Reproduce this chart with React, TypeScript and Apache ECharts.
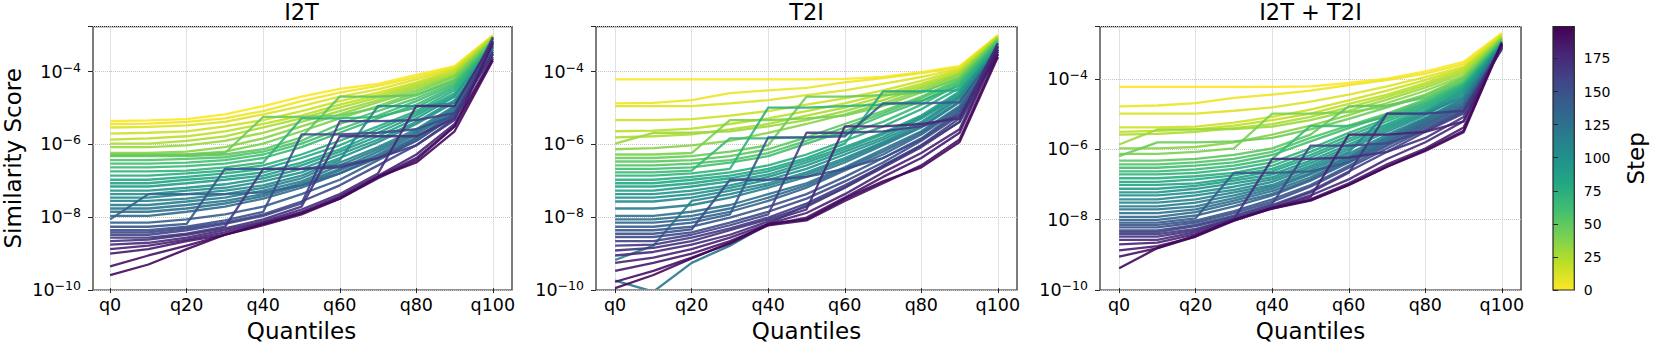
import React, { useEffect, useRef } from 'react';
import * as echarts from 'echarts';

const quantiles = ['q0', 'q10', 'q20', 'q30', 'q40', 'q50', 'q60', 'q70', 'q80', 'q90', 'q100'];
const steps = [0, 5, 10, 15, 20, 25, 30, 35, 40, 45, 50, 55, 60, 65, 70, 75, 80, 85, 90, 95, 100, 105, 110, 115, 120, 125, 130, 135, 140, 145, 150, 155, 160, 165, 170, 175, 180, 185, 190, 195];
const panelTitles = ['I2T', 'T2I', 'I2T + T2I'];
const yAxisMin = 1e-10;
const yAxisMaxes = [1.73e-3, 1.73e-3, 3.07e-3];
const stepMin = 0;
const stepMax = 199;
const stepTickInterval = 25;

const i2tScores = [
  [4.2e-6, 4.4e-6, 4.8e-6, 6.5e-6, 1.1e-5, 2.0e-5, 3.3e-5, 4.5e-5, 8.0e-5, 1.4e-4, 1.0e-3],
  [3.5e-6, 3.6e-6, 4.0e-6, 5.0e-6, 8.0e-6, 1.5e-5, 2.6e-5, 4.0e-5, 7.0e-5, 1.3e-4, 1.0e-3],
  [2.8e-6, 2.9e-6, 3.2e-6, 4.0e-6, 6.5e-6, 1.1e-5, 2.0e-5, 3.2e-5, 6.0e-5, 1.2e-4, 9.5e-4],
  [1.9e-6, 2.0e-6, 2.2e-6, 3.0e-6, 4.5e-6, 8.0e-6, 1.5e-5, 2.6e-5, 5.0e-5, 1.1e-4, 9.0e-4],
  [1.3e-6, 1.4e-6, 1.6e-6, 2.2e-6, 3.5e-6, 6.0e-6, 1.2e-5, 2.2e-5, 4.5e-5, 1.0e-4, 9.0e-4],
  [1.0e-6, 1.0e-6, 1.2e-6, 1.6e-6, 2.8e-6, 5.0e-6, 1.0e-5, 1.9e-5, 4.0e-5, 9.0e-5, 8.5e-4],
  [8.0e-7, 8.0e-7, 9.0e-7, 1.2e-6, 2.0e-6, 4.0e-6, 8.0e-6, 1.6e-5, 3.5e-5, 8.0e-5, 8.0e-4],
  [5.5e-7, 5.5e-7, 6.0e-7, 8.0e-7, 1.4e-6, 3.0e-6, 6.5e-6, 1.4e-5, 3.0e-5, 7.5e-5, 8.0e-4],
  [5.0e-7, 5.0e-7, 5.0e-7, 6.0e-7, 1.0e-6, 2.2e-6, 5.0e-6, 1.1e-5, 2.6e-5, 7.0e-5, 7.5e-4],
  [4.8e-7, 4.8e-7, 5.0e-7, 5.5e-7, 5.5e-6, 5.5e-6, 6.0e-6, 1.0e-5, 2.2e-5, 6.0e-5, 7.0e-4],
  [4.5e-7, 4.5e-7, 4.5e-7, 5.0e-7, 7.0e-7, 1.5e-6, 2.0e-5, 2.0e-5, 2.2e-5, 5.5e-5, 7.0e-4],
  [3.5e-7, 3.5e-7, 3.8e-7, 4.2e-7, 6.0e-7, 1.2e-6, 3.5e-6, 8.0e-6, 1.8e-5, 5.0e-5, 6.5e-4],
  [2.8e-7, 2.8e-7, 3.0e-7, 3.5e-7, 5.0e-7, 1.0e-6, 2.5e-6, 6.0e-6, 1.5e-5, 4.5e-5, 6.0e-4],
  [2.2e-7, 2.2e-7, 2.4e-7, 2.8e-7, 4.0e-7, 8.0e-7, 2.0e-6, 5.0e-6, 1.2e-5, 4.0e-5, 6.0e-4],
  [1.7e-7, 1.7e-7, 1.8e-7, 2.2e-7, 3.0e-7, 5.0e-6, 5.0e-6, 5.5e-6, 1.0e-5, 3.5e-5, 5.5e-4],
  [1.3e-7, 1.3e-7, 1.5e-7, 1.8e-7, 2.5e-7, 5.0e-7, 1.2e-6, 3.0e-6, 8.0e-6, 3.0e-5, 5.5e-4],
  [1.0e-7, 1.0e-7, 1.2e-7, 1.5e-7, 2.0e-7, 4.0e-7, 9.0e-7, 2.5e-6, 7.0e-6, 2.5e-5, 5.0e-4],
  [8.0e-8, 8.0e-8, 1.0e-7, 1.2e-7, 1.6e-7, 3.0e-7, 7.0e-7, 2.0e-6, 6.0e-6, 2.2e-5, 5.0e-4],
  [6.5e-8, 6.5e-8, 8.0e-8, 1.0e-7, 1.3e-7, 2.5e-7, 6.0e-7, 1.6e-6, 5.0e-6, 2.0e-5, 5.0e-4],
  [5.0e-8, 5.0e-8, 6.0e-8, 7.5e-8, 1.1e-7, 2.0e-7, 5.0e-7, 1.3e-6, 4.0e-6, 1.6e-5, 4.5e-4],
  [4.0e-8, 4.0e-8, 5.0e-8, 6.0e-8, 9.0e-8, 1.6e-7, 4.0e-7, 1.1e-6, 3.5e-6, 1.4e-5, 4.5e-4],
  [3.2e-8, 3.2e-8, 4.0e-8, 5.0e-8, 7.0e-8, 1.3e-7, 3.5e-7, 1.1e-5, 1.1e-5, 1.3e-5, 4.0e-4],
  [2.6e-8, 2.6e-8, 3.0e-8, 4.0e-8, 6.0e-8, 1.1e-7, 3.0e-7, 8.0e-7, 2.5e-6, 1.1e-5, 6.0e-4],
  [2.0e-8, 2.0e-8, 2.5e-8, 3.2e-8, 5.0e-8, 9.0e-8, 2.5e-7, 7.0e-7, 2.2e-6, 1.0e-5, 4.0e-4],
  [1.6e-8, 1.6e-8, 2.0e-8, 2.6e-8, 4.0e-8, 8.0e-8, 2.0e-7, 6.0e-7, 2.0e-6, 9.0e-6, 7.0e-4],
  [1.3e-8, 1.3e-8, 1.6e-8, 2.2e-8, 3.5e-8, 7.0e-8, 1.8e-7, 5.0e-7, 1.8e-6, 8.0e-6, 3.5e-4],
  [1.0e-8, 1.0e-8, 1.3e-8, 1.8e-8, 3.0e-8, 6.0e-8, 1.5e-7, 4.5e-7, 1.5e-6, 7.0e-6, 8.0e-4],
  [8.0e-9, 4.0e-8, 4.0e-8, 4.0e-8, 4.5e-8, 7.0e-8, 1.5e-7, 4.0e-7, 1.4e-6, 7.0e-6, 3.0e-4],
  [6.5e-9, 6.5e-9, 8.0e-9, 1.1e-8, 1.8e-8, 4.0e-8, 1.0e-7, 3.5e-7, 1.2e-6, 6.0e-6, 9.0e-4],
  [5.0e-9, 5.0e-9, 6.0e-9, 2.0e-7, 2.0e-7, 2.0e-7, 2.5e-7, 4.0e-7, 1.2e-6, 6.0e-6, 5.0e-4],
  [4.0e-9, 4.0e-9, 5.0e-9, 7.5e-9, 1.3e-8, 1.8e-6, 1.8e-6, 2.0e-6, 2.5e-6, 6.0e-6, 3.0e-4],
  [3.5e-9, 3.5e-9, 4.5e-9, 6.5e-9, 1.1e-8, 2.5e-8, 7.0e-8, 2.5e-7, 9.0e-7, 5.0e-6, 8.5e-4],
  [3.0e-9, 3.0e-9, 4.0e-9, 6.0e-9, 1.0e-8, 2.2e-8, 4.2e-6, 4.2e-6, 4.5e-6, 7.0e-6, 3.0e-4],
  [2.5e-9, 2.5e-9, 3.2e-9, 5.0e-9, 2.0e-7, 2.0e-7, 2.2e-7, 4.0e-7, 9.0e-7, 4.5e-6, 6.5e-4],
  [2.0e-9, 2.2e-9, 3.0e-9, 4.5e-9, 8.0e-9, 1.8e-8, 1.6e-6, 1.6e-6, 1.6e-6, 5.0e-6, 3.5e-4],
  [1.6e-9, 1.8e-9, 2.5e-9, 4.0e-9, 7.0e-9, 1.5e-8, 4.0e-8, 1.5e-7, 1.1e-5, 1.1e-5, 7.0e-4],
  [1.2e-9, 1.5e-9, 2.2e-9, 3.5e-9, 6.5e-9, 1.3e-8, 3.5e-8, 1.3e-7, 5.0e-7, 3.5e-6, 2.5e-4],
  [9.0e-10, 1.2e-9, 2.0e-9, 3.0e-9, 6.0e-9, 1.2e-8, 3.2e-8, 1.2e-7, 4.0e-7, 3.0e-6, 6.0e-4],
  [4.0e-10, 8.0e-10, 1.5e-9, 3.0e-9, 6.0e-9, 1.2e-8, 3.0e-8, 1.1e-7, 3.5e-7, 3.0e-6, 2.2e-4],
  [2.3e-10, 4.5e-10, 1.2e-9, 3.0e-9, 5.5e-9, 1.1e-8, 3.0e-8, 1.2e-7, 3.0e-7, 2.2e-6, 2.0e-4],
];

const t2iScores = [
  [6.0e-5, 6.0e-5, 6.0e-5, 6.0e-5, 6.0e-5, 6.0e-5, 6.2e-5, 7.0e-5, 9.5e-5, 1.4e-4, 1.0e-3],
  [1.3e-5, 1.35e-5, 1.6e-5, 2.5e-5, 3.0e-5, 3.5e-5, 5.0e-5, 6.5e-5, 9.0e-5, 1.3e-4, 1.0e-3],
  [1.1e-5, 1.1e-5, 1.1e-5, 1.3e-5, 1.6e-5, 2.2e-5, 3.0e-5, 4.5e-5, 7.0e-5, 1.2e-4, 9.5e-4],
  [4.5e-6, 4.5e-6, 4.8e-6, 6.0e-6, 8.0e-6, 1.2e-5, 1.8e-5, 3.0e-5, 5.5e-5, 1.1e-4, 9.0e-4],
  [2.2e-6, 2.3e-6, 2.6e-6, 3.5e-6, 5.0e-6, 8.0e-6, 1.3e-5, 2.4e-5, 4.5e-5, 1.0e-4, 9.0e-4],
  [1.5e-6, 1.6e-6, 1.8e-6, 2.5e-6, 3.5e-6, 6.0e-6, 1.0e-5, 2.0e-5, 4.0e-5, 9.0e-5, 8.5e-4],
  [1.0e-6, 2.0e-6, 2.0e-6, 2.2e-6, 3.0e-6, 4.5e-6, 8.0e-6, 1.6e-5, 3.5e-5, 8.5e-5, 8.5e-4],
  [7.0e-7, 7.5e-7, 9.0e-7, 1.2e-6, 2.0e-6, 3.5e-6, 6.5e-6, 1.3e-5, 3.0e-5, 8.0e-5, 8.0e-4],
  [5.0e-7, 5.0e-7, 5.5e-7, 4.5e-6, 4.5e-6, 5.0e-6, 6.0e-6, 1.1e-5, 2.6e-5, 7.0e-5, 8.0e-4],
  [4.0e-7, 4.0e-7, 4.5e-7, 6.0e-7, 9.0e-7, 2.0e-5, 2.0e-5, 2.2e-5, 2.6e-5, 6.5e-5, 7.5e-4],
  [3.2e-7, 3.2e-7, 3.5e-7, 4.5e-7, 7.0e-7, 1.5e-6, 3.5e-6, 8.0e-6, 2.0e-5, 6.0e-5, 7.0e-4],
  [2.5e-7, 2.5e-7, 2.8e-7, 3.5e-7, 5.5e-7, 1.2e-6, 2.8e-6, 7.0e-6, 1.8e-5, 5.5e-5, 7.0e-4],
  [2.0e-7, 2.0e-7, 2.2e-7, 3.0e-7, 4.5e-7, 1.0e-6, 2.2e-6, 6.0e-6, 1.5e-5, 5.0e-5, 6.5e-4],
  [1.6e-7, 1.6e-7, 1.8e-7, 1.4e-6, 1.4e-6, 1.5e-6, 1.8e-6, 4.0e-6, 1.2e-5, 4.5e-5, 6.0e-4],
  [1.3e-7, 1.3e-7, 1.5e-7, 2.0e-7, 1.0e-5, 1.0e-5, 1.1e-5, 1.2e-5, 1.5e-5, 4.0e-5, 6.0e-4],
  [1.0e-7, 1.0e-7, 1.2e-7, 1.6e-7, 2.5e-7, 5.0e-7, 1.2e-6, 3.0e-6, 9.0e-6, 3.5e-5, 5.5e-4],
  [8.0e-8, 8.0e-8, 1.0e-7, 1.3e-7, 2.0e-7, 4.0e-7, 1.0e-6, 2.8e-5, 2.8e-5, 3.0e-5, 5.0e-4],
  [6.5e-8, 6.5e-8, 8.0e-8, 1.1e-7, 1.7e-7, 3.5e-7, 8.0e-7, 2.0e-6, 6.0e-6, 2.8e-5, 5.0e-4],
  [5.0e-8, 5.0e-8, 6.5e-8, 9.0e-8, 1.4e-7, 3.0e-7, 7.0e-7, 1.8e-6, 5.5e-6, 2.5e-5, 4.5e-4],
  [4.0e-8, 4.0e-8, 5.0e-8, 7.0e-8, 1.2e-7, 2.5e-7, 6.0e-7, 1.5e-6, 5.0e-6, 2.2e-5, 4.5e-4],
  [3.2e-8, 3.2e-8, 4.0e-8, 6.0e-8, 1.0e-7, 2.0e-7, 5.0e-7, 1.3e-6, 4.0e-6, 2.0e-5, 4.5e-4],
  [2.5e-8, 2.5e-8, 3.2e-8, 5.0e-8, 8.0e-8, 1.6e-7, 4.0e-7, 1.1e-6, 3.5e-6, 1.8e-5, 4.0e-4],
  [6.0e-10, 1.5e-9, 2.6e-8, 4.0e-8, 7.0e-8, 1.4e-7, 3.5e-7, 1.0e-6, 3.0e-6, 1.5e-5, 4.0e-4],
  [1.6e-8, 1.6e-8, 2.0e-8, 3.2e-8, 6.0e-8, 1.2e-7, 3.0e-7, 9.0e-7, 2.8e-6, 1.4e-5, 4.0e-4],
  [1.6e-10, 8.0e-11, 5.0e-10, 1.5e-9, 6.0e-9, 2.0e-8, 6.0e-8, 2.5e-7, 9.0e-7, 4.0e-6, 3.5e-4],
  [1.0e-8, 1.0e-8, 1.3e-8, 2.0e-8, 4.0e-8, 8.0e-8, 2.2e-7, 7.0e-7, 2.2e-6, 1.1e-5, 3.5e-4],
  [8.0e-9, 8.0e-9, 1.0e-8, 1.6e-8, 3.2e-8, 7.0e-8, 2.0e-7, 6.0e-7, 2.0e-6, 1.0e-5, 3.5e-4],
  [6.5e-9, 6.5e-9, 8.0e-9, 1.3e-8, 2.6e-8, 6.0e-8, 1.8e-7, 5.0e-7, 1.8e-6, 9.0e-6, 3.0e-4],
  [5.0e-9, 5.0e-9, 6.5e-9, 1.1e-8, 1.5e-6, 1.5e-6, 1.6e-6, 1.3e-5, 1.3e-5, 1.4e-5, 4.0e-4],
  [4.0e-9, 4.0e-9, 5.0e-9, 9.0e-9, 1.8e-8, 4.0e-8, 1.2e-7, 4.0e-7, 1.4e-6, 8.0e-6, 3.0e-4],
  [3.2e-9, 3.2e-9, 4.2e-9, 1.0e-7, 1.0e-7, 1.2e-7, 2.0e-7, 4.0e-7, 1.3e-6, 7.0e-6, 2.5e-4],
  [2.6e-9, 2.6e-9, 3.5e-9, 6.5e-9, 1.3e-8, 3.0e-8, 9.0e-8, 3.0e-7, 1.2e-6, 6.0e-6, 3.0e-4],
  [2.0e-9, 2.0e-9, 3.0e-9, 5.5e-9, 1.1e-8, 2.0e-6, 2.0e-6, 2.2e-6, 3.0e-6, 6.0e-6, 3.5e-4],
  [1.5e-9, 1.6e-9, 2.5e-9, 4.5e-9, 9.0e-9, 2.2e-8, 7.0e-8, 2.4e-7, 9.0e-7, 5.0e-6, 4.0e-4],
  [1.1e-9, 1.3e-9, 2.0e-9, 4.0e-9, 8.0e-9, 1.8e-8, 6.0e-8, 2.2e-7, 8.0e-7, 4.0e-6, 5.0e-4],
  [8.0e-10, 1.0e-9, 1.6e-9, 3.0e-9, 7.0e-9, 1.5e-8, 3.0e-6, 3.0e-6, 3.5e-6, 5.0e-6, 6.0e-4],
  [5.0e-10, 7.0e-10, 1.2e-9, 2.5e-9, 6.0e-9, 1.2e-8, 4.0e-8, 1.6e-7, 5.5e-7, 2.5e-6, 5.0e-4],
  [3.0e-10, 5.0e-10, 9.0e-10, 2.0e-9, 5.5e-9, 9.0e-9, 3.2e-8, 1.2e-7, 4.0e-7, 2.0e-6, 4.0e-4],
  [1.5e-10, 3.0e-10, 7.0e-10, 1.7e-9, 5.5e-9, 7.5e-9, 2.6e-8, 8.0e-8, 2.5e-7, 1.3e-6, 3.0e-4],
  [1.0e-10, 2.3e-10, 6.6e-10, 1.8e-9, 6.0e-9, 8.0e-9, 3.0e-8, 9.0e-8, 2.2e-7, 1.1e-6, 2.5e-4],
];

const bothScores = [
  [5.8e-5, 5.8e-5, 5.8e-5, 5.8e-5, 5.8e-5, 6.0e-5, 7.5e-5, 1.0e-4, 1.6e-4, 3.0e-4, 2.0e-3],
  [1.6e-5, 1.7e-5, 2.0e-5, 2.8e-5, 3.5e-5, 4.5e-5, 6.5e-5, 9.0e-5, 1.4e-4, 2.6e-4, 1.9e-3],
  [1.0e-5, 1.0e-5, 1.0e-5, 1.2e-5, 1.5e-5, 2.2e-5, 3.5e-5, 6.0e-5, 1.1e-4, 2.2e-4, 1.8e-3],
  [4.0e-6, 4.0e-6, 4.2e-6, 5.5e-6, 8.0e-6, 1.3e-5, 2.4e-5, 4.5e-5, 9.0e-5, 2.0e-4, 1.7e-3],
  [3.0e-6, 3.2e-6, 3.5e-6, 4.5e-6, 6.5e-6, 1.0e-5, 1.9e-5, 3.5e-5, 7.5e-5, 1.8e-4, 1.6e-3],
  [2.5e-6, 2.6e-6, 3.0e-6, 3.8e-6, 5.0e-6, 8.0e-6, 1.5e-5, 3.0e-5, 6.5e-5, 1.6e-4, 1.5e-3],
  [1.3e-6, 3.5e-6, 3.5e-6, 3.6e-6, 4.2e-6, 6.5e-6, 1.2e-5, 2.5e-5, 5.5e-5, 1.4e-4, 1.5e-3],
  [1.0e-6, 1.0e-6, 1.1e-6, 1.5e-6, 2.5e-6, 4.5e-6, 9.0e-6, 2.0e-5, 4.5e-5, 1.2e-4, 1.4e-3],
  [7.0e-7, 7.0e-7, 8.0e-7, 1.0e-6, 1.0e-5, 1.0e-5, 1.1e-5, 1.6e-5, 3.5e-5, 1.1e-4, 1.4e-3],
  [6.0e-7, 1.5e-6, 1.5e-6, 1.6e-6, 2.0e-6, 3.5e-6, 7.0e-6, 1.5e-5, 3.2e-5, 1.0e-4, 1.3e-3],
  [4.5e-7, 4.5e-7, 5.0e-7, 6.5e-7, 1.0e-6, 2.5e-6, 1.6e-5, 1.7e-5, 2.8e-5, 9.0e-5, 1.3e-3],
  [3.5e-7, 3.5e-7, 4.0e-7, 5.0e-7, 8.0e-7, 2.0e-6, 4.5e-6, 1.0e-5, 2.5e-5, 8.0e-5, 1.2e-3],
  [2.8e-7, 2.8e-7, 3.2e-7, 4.0e-7, 6.5e-7, 1.6e-6, 3.8e-6, 9.0e-6, 2.2e-5, 7.5e-5, 1.2e-3],
  [2.2e-7, 2.2e-7, 2.5e-7, 3.2e-7, 5.0e-7, 4.4e-6, 4.4e-6, 8.0e-6, 2.0e-5, 7.0e-5, 1.1e-3],
  [1.8e-7, 1.8e-7, 2.0e-7, 2.6e-7, 4.0e-7, 1.0e-6, 2.8e-6, 7.0e-6, 1.8e-5, 6.5e-5, 1.1e-3],
  [1.4e-7, 1.4e-7, 1.6e-7, 2.0e-7, 3.2e-7, 8.0e-7, 2.3e-6, 6.0e-6, 1.6e-5, 6.0e-5, 1.0e-3],
  [1.1e-7, 1.1e-7, 1.3e-7, 1.7e-7, 2.6e-7, 6.5e-7, 1.9e-6, 5.0e-6, 1.4e-5, 5.5e-5, 1.0e-3],
  [9.0e-8, 9.0e-8, 1.0e-7, 1.4e-7, 2.2e-7, 5.5e-7, 1.6e-6, 4.5e-6, 1.2e-5, 5.0e-5, 1.0e-3],
  [7.0e-8, 7.0e-8, 8.5e-8, 1.2e-7, 1.8e-7, 4.5e-7, 1.3e-6, 4.0e-6, 1.1e-5, 4.5e-5, 9.5e-4],
  [5.5e-8, 5.5e-8, 7.0e-8, 1.0e-7, 1.5e-7, 3.8e-7, 1.1e-6, 3.5e-6, 1.0e-5, 4.0e-5, 9.5e-4],
  [4.5e-8, 4.5e-8, 5.5e-8, 8.0e-8, 1.3e-7, 3.2e-7, 9.5e-7, 3.0e-6, 9.0e-6, 3.5e-5, 9.0e-4],
  [3.5e-8, 3.5e-8, 4.5e-8, 6.5e-8, 1.1e-7, 2.8e-7, 8.0e-7, 1.0e-5, 1.0e-5, 3.0e-5, 9.0e-4],
  [2.8e-8, 2.8e-8, 3.5e-8, 5.5e-8, 9.0e-8, 2.4e-7, 7.0e-7, 2.5e-6, 7.5e-6, 2.8e-5, 9.0e-4],
  [2.2e-8, 2.2e-8, 2.8e-8, 4.5e-8, 8.0e-8, 2.0e-7, 6.0e-7, 2.2e-6, 7.0e-6, 2.5e-5, 8.5e-4],
  [1.8e-8, 1.8e-8, 2.2e-8, 3.8e-8, 7.0e-8, 1.8e-7, 5.5e-7, 2.0e-6, 6.5e-6, 2.2e-5, 8.5e-4],
  [1.4e-8, 1.4e-8, 1.8e-8, 3.2e-8, 6.0e-8, 1.5e-7, 5.0e-7, 1.8e-6, 6.0e-6, 2.0e-5, 8.5e-4],
  [1.1e-8, 1.1e-8, 1.5e-8, 2.7e-8, 5.0e-8, 1.3e-7, 4.5e-7, 1.6e-6, 5.5e-6, 1.8e-5, 8.0e-4],
  [9.0e-9, 9.0e-9, 1.2e-8, 2.2e-8, 4.5e-8, 1.2e-7, 4.0e-7, 1.5e-6, 5.0e-6, 1.6e-5, 8.0e-4],
  [7.5e-9, 7.5e-9, 1.0e-8, 2.0e-7, 2.0e-7, 2.2e-7, 4.0e-7, 1.3e-6, 4.5e-6, 1.5e-5, 8.0e-4],
  [6.5e-9, 6.5e-9, 8.5e-9, 1.6e-8, 3.5e-8, 9.0e-8, 3.2e-7, 1.2e-6, 4.0e-6, 1.3e-5, 7.5e-4],
  [5.5e-9, 5.5e-9, 7.5e-9, 1.4e-8, 3.0e-8, 8.0e-8, 2.8e-7, 1.0e-6, 3.5e-6, 1.2e-5, 7.5e-4],
  [4.5e-9, 4.5e-9, 6.5e-9, 1.2e-8, 2.6e-8, 1.2e-6, 1.2e-6, 1.4e-6, 3.2e-6, 1.1e-5, 7.0e-4],
  [4.0e-9, 4.0e-9, 6.0e-9, 1.1e-8, 2.4e-8, 6.0e-8, 2.2e-7, 8.0e-7, 3.0e-6, 1.0e-5, 7.5e-4],
  [3.5e-9, 3.5e-9, 5.0e-9, 1.0e-8, 2.2e-8, 5.5e-8, 2.0e-7, 1.0e-5, 1.0e-5, 1.2e-5, 8.0e-4],
  [3.0e-9, 3.0e-9, 4.5e-9, 9.5e-9, 5.0e-7, 5.0e-7, 5.5e-7, 8.0e-7, 2.0e-6, 8.0e-6, 8.5e-4],
  [2.4e-9, 2.4e-9, 4.0e-9, 9.0e-9, 2.0e-8, 4.5e-8, 1.3e-7, 5.0e-7, 1.5e-6, 6.0e-6, 9.0e-4],
  [1.8e-9, 2.0e-9, 3.5e-9, 8.5e-9, 2.0e-8, 4.0e-8, 2.5e-6, 2.5e-6, 3.0e-6, 6.0e-6, 9.5e-4],
  [1.2e-9, 1.6e-9, 3.0e-9, 8.5e-9, 1.9e-8, 3.5e-8, 1.0e-7, 3.5e-7, 1.0e-6, 4.0e-6, 1.0e-3],
  [8.0e-10, 1.4e-9, 3.0e-9, 9.0e-9, 1.9e-8, 3.2e-8, 9.0e-8, 3.0e-7, 9.0e-7, 3.2e-6, 1.1e-3],
  [3.7e-10, 1.4e-9, 3.2e-9, 9.0e-9, 2.0e-8, 3.3e-8, 9.0e-8, 3.0e-7, 8.5e-7, 2.9e-6, 1.0e-3],
];

const panelScores = [i2tScores, t2iScores, bothScores];

// viridis colour stops (style)
const viridisStops = ['#440154', '#482475', '#414487', '#355f8d', '#2a788e', '#21918c', '#22a884', '#44bf70', '#7ad151', '#bddf26', '#fde725'];

function hexToRgb(h: string) {
  return [parseInt(h.slice(1, 3), 16), parseInt(h.slice(3, 5), 16), parseInt(h.slice(5, 7), 16)];
}
function viridis(t: number) {
  const x = Math.max(0, Math.min(1, t)) * 10;
  const i = Math.min(9, Math.floor(x));
  const f = x - i;
  const a = hexToRgb(viridisStops[i]);
  const b = hexToRgb(viridisStops[i + 1]);
  const c = a.map((v, k) => Math.round(v + (b[k] - v) * f));
  return `rgb(${c[0]},${c[1]},${c[2]})`;
}
function stepColor(s: number) {
  return viridis(1 - (s - stepMin) / (stepMax - stepMin));
}

const FONT = 'DejaVu Sans';
const INK = '#262626';
const BOX_TOP = 26.7;
const BOX_H = 263.3;
const BOX_W = 421;
const PANEL_LEFTS = [91, 596, 1100];
const INSET = BOX_W / 22;
const CB_LEFT = 1553;
const CB_W = 21.3;

function yLabel(v: number) {
  const e = Math.log10(v);
  const r = Math.round(e);
  if (Math.abs(e - r) > 1e-6) return '';
  return `{b|10}{s|${r < 0 ? '\u2212' : ''}${Math.abs(r)}}`;
}

export default function App() {
  const ref = useRef<HTMLDivElement>(null);
  useEffect(() => {
    document.body.style.margin = '0';
    if (!ref.current) return;
    const chart = echarts.init(ref.current, undefined, { renderer: 'svg' });

    const grids: any[] = [];
    const xAxes: any[] = [];
    const yAxes: any[] = [];
    const graphics: any[] = [];

    PANEL_LEFTS.forEach((left, p) => {
      grids.push({ left, top: BOX_TOP, width: BOX_W, height: BOX_H, show: true, borderColor: INK, borderWidth: 1.2, backgroundColor: 'transparent' });
      xAxes.push({ gridIndex: p, type: 'value', min: 0, max: 1, show: false });
      yAxes.push({
        gridIndex: p,
        type: 'log',
        logBase: 100,
        min: yAxisMin,
        max: yAxisMaxes[p],
        axisLine: { show: false },
        axisTick: { show: true, length: 5, lineStyle: { color: INK, width: 1 } },
        axisLabel: {
          formatter: yLabel,
          margin: 12,
          color: '#000',
          rich: {
            b: { fontSize: 17.5, fontFamily: FONT, color: '#000', lineHeight: 22 },
            s: { fontSize: 12.5, fontFamily: FONT, color: '#000', verticalAlign: 'top', lineHeight: 13 },
          },
        },
        splitLine: { show: true, lineStyle: { color: '#c4c4c4', type: 'dotted', width: 1 } },
        name: p === 0 ? 'Similarity Score' : '',
        nameLocation: 'middle',
        nameGap: 69,
        nameRotate: 90,
        nameTextStyle: { fontSize: 23, fontFamily: FONT, color: '#000' },
      });
      graphics.push({
        type: 'text',
        x: left + BOX_W / 2,
        y: 0,
        style: { text: panelTitles[p], fontSize: 22.5, fontFamily: FONT, fill: '#000', textAlign: 'center', textVerticalAlign: 'top' },
      });
    });

    PANEL_LEFTS.forEach((left, p) => {
      grids.push({ left: left + INSET, top: BOX_TOP, width: BOX_W - 2 * INSET, height: BOX_H });
      xAxes.push({
        gridIndex: 3 + p,
        type: 'category',
        data: quantiles,
        boundaryGap: false,
        axisLine: { show: false },
        axisTick: { show: true, interval: 1, length: 5, lineStyle: { color: INK, width: 1 } },
        axisLabel: { interval: 1, fontSize: 17.5, fontFamily: FONT, color: '#000', margin: 8 },
        splitLine: { show: true, interval: 1, lineStyle: { color: '#c4c4c4', type: 'dotted', width: 1 } },
        name: 'Quantiles',
        nameLocation: 'middle',
        nameGap: 30,
        nameTextStyle: { fontSize: 23, fontFamily: FONT, color: '#000' },
      });
      yAxes.push({ gridIndex: 3 + p, type: 'log', logBase: 100, min: yAxisMin, max: yAxisMaxes[p], show: false });
    });

    // colour bar
    grids.push({ left: CB_LEFT, top: BOX_TOP, width: CB_W, height: BOX_H });
    xAxes.push({ gridIndex: 6, type: 'value', min: 0, max: 1, show: false });
    yAxes.push({
      gridIndex: 6,
      type: 'value',
      position: 'right',
      min: stepMin,
      max: stepMax,
      interval: stepTickInterval,
      axisLine: { show: false },
      axisTick: { show: true, length: 5, lineStyle: { color: INK, width: 1 } },
      axisLabel: { fontSize: 14, fontFamily: FONT, color: '#000', margin: 9.5, showMaxLabel: false },
      splitLine: { show: false },
      name: 'Step',
      nameLocation: 'middle',
      nameRotate: 90,
      nameGap: 50,
      nameTextStyle: { fontSize: 23, fontFamily: FONT, color: '#000' },
    });
    graphics.push({
      type: 'rect',
      shape: { x: CB_LEFT, y: BOX_TOP, width: CB_W, height: BOX_H },
      style: {
        fill: new echarts.graphic.LinearGradient(0, 0, 0, 1, viridisStops.map((c, i) => ({ offset: i / 10, color: c }))),
        stroke: INK,
        lineWidth: 1.2,
      },
      z: -1,
    });

    const series: any[] = [];
    panelScores.forEach((scores, p) => {
      scores.forEach((row, k) => {
        series.push({
          type: 'line',
          xAxisIndex: 3 + p,
          yAxisIndex: 3 + p,
          data: row,
          symbol: 'none',
          showSymbol: false,
          silent: true,
          clip: true,
          emphasis: { disabled: true },
          lineStyle: { width: 2.3, color: stepColor(steps[k]), opacity: 0.9 },
        });
      });
    });

    chart.setOption({
      animation: false,
      textStyle: { fontFamily: FONT },
      grid: grids,
      xAxis: xAxes,
      yAxis: yAxes,
      series,
      graphic: graphics,
    });
    return () => chart.dispose();
  }, []);
  return <div ref={ref} style={{ width: 1661, height: 347 }} />;
}
